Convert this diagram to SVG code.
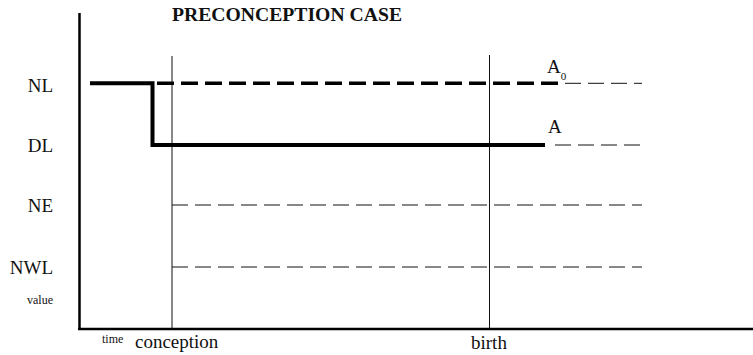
<svg xmlns="http://www.w3.org/2000/svg" width="753" height="355" viewBox="0 0 753 355">
<style>
text{font-family:'Liberation Serif','Times New Roman',serif;fill:#111}
.lbl{font-size:19px}
.sm{font-size:12px}
.axis{stroke:#000;stroke-width:2.5;fill:none}
.vline{stroke:#111;stroke-width:1;fill:none}
.thick{stroke:#000;stroke-width:4;fill:none}
.tdash{stroke:#000;stroke-width:3.5;fill:none;stroke-dasharray:17 7}
.dash{stroke:#111;stroke-width:1;fill:none;stroke-dasharray:16 7}
</style>
<rect width="753" height="355" fill="#fff"/>
<text id="title" x="172" y="21" font-size="18" font-weight="bold" textLength="230" lengthAdjust="spacingAndGlyphs">PRECONCEPTION CASE</text>
<g id="labels">
<text class="lbl" x="53" y="92" text-anchor="end">NL</text>
<text class="lbl" x="53" y="152" text-anchor="end">DL</text>
<text class="lbl" x="53" y="212" text-anchor="end">NE</text>
<text class="lbl" x="53" y="274" text-anchor="end">NWL</text>
<text class="sm" x="53" y="304" text-anchor="end">value</text>
<text class="sm" x="102" y="343">time</text>
<text class="lbl" x="135" y="348">conception</text>
<text class="lbl" x="471" y="349">birth</text>
</g>
<g id="curve-labels">
<text class="lbl" x="547" y="73">A<tspan font-size="11" dy="7">0</tspan></text>
<text class="lbl" x="548" y="133">A</text>
</g>
<g id="axes">
<line class="axis" x1="79.5" y1="13" x2="79.5" y2="330"/>
<line class="axis" x1="78" y1="329" x2="753" y2="329"/>
</g>
<g id="markers">
<line class="vline" x1="172" y1="56" x2="172" y2="329"/>
<line class="vline" x1="489.5" y1="55" x2="489.5" y2="329"/>
</g>
<g id="connectors">
<polyline class="thick" points="90,83.3 152.5,83.3 152.5,145 545,145"/>
<line class="tdash" x1="157" y1="83.3" x2="565" y2="83.3"/>
<line class="dash" x1="565" y1="83.3" x2="642" y2="83.3"/>
<line class="dash" x1="555" y1="145" x2="642" y2="145"/>
<line class="dash" x1="172" y1="205" x2="642" y2="205"/>
<line class="dash" x1="172" y1="267" x2="642" y2="267"/>
</g>
</svg>
